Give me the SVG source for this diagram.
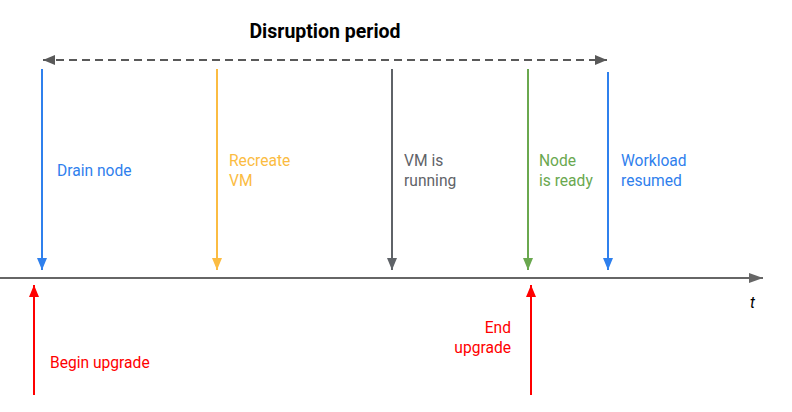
<svg xmlns="http://www.w3.org/2000/svg" width="792" height="412" viewBox="0 0 792 412">
<style>
text{font-family:Roboto,"Liberation Sans",sans-serif;font-size:15.6px}
.title{font-weight:bold;font-size:19.5px;fill:#000}
.ln{stroke-width:2;fill:none}
.blue{fill:#2f80ed}.orange{fill:#fbbc42}.gray{fill:#5f6368}.green{fill:#6aa84f}.red{fill:#ff0000}
</style>
<defs>
<marker id="ab" viewBox="0 0 12 10" refX="12" refY="5" markerWidth="12" markerHeight="10" markerUnits="userSpaceOnUse" orient="auto"><path d="M0,0L12,5L0,10z" fill="#2f80ed"/></marker>
<marker id="ao" viewBox="0 0 12 10" refX="12" refY="5" markerWidth="12" markerHeight="10" markerUnits="userSpaceOnUse" orient="auto"><path d="M0,0L12,5L0,10z" fill="#fbbc42"/></marker>
<marker id="ag" viewBox="0 0 12 10" refX="12" refY="5" markerWidth="12" markerHeight="10" markerUnits="userSpaceOnUse" orient="auto"><path d="M0,0L12,5L0,10z" fill="#5f6368"/></marker>
<marker id="agr" viewBox="0 0 12 10" refX="12" refY="5" markerWidth="12" markerHeight="10" markerUnits="userSpaceOnUse" orient="auto"><path d="M0,0L12,5L0,10z" fill="#6aa84f"/></marker>
<marker id="ar" viewBox="0 0 12 10" refX="12" refY="5" markerWidth="12" markerHeight="10" markerUnits="userSpaceOnUse" orient="auto"><path d="M0,0L12,5L0,10z" fill="#ff0000"/></marker>
<marker id="ad" viewBox="0 0 12 10" refX="12" refY="5" markerWidth="12" markerHeight="10" markerUnits="userSpaceOnUse" orient="auto-start-reverse"><path d="M0,0L12,5L0,10z" fill="#595959"/></marker>
<marker id="aax" viewBox="0 0 14 10" refX="14" refY="5" markerWidth="14" markerHeight="10" markerUnits="userSpaceOnUse" orient="auto"><path d="M0,0L14,5L0,10z" fill="#666666"/></marker>
</defs>
<g id="connectors">
<line id="timeline" class="ln" x1="0" y1="278" x2="763" y2="278" stroke="#666666" marker-end="url(#aax)"/>
<line id="disruption" class="ln" x1="43" y1="60" x2="607" y2="60" stroke="#595959" stroke-dasharray="8,5" marker-start="url(#ad)" marker-end="url(#ad)"/>
<line class="ln" x1="42" y1="69" x2="42" y2="270" stroke="#2f80ed" marker-end="url(#ab)"/>
<line class="ln" x1="217" y1="69" x2="217" y2="270" stroke="#fbbc42" marker-end="url(#ao)"/>
<line class="ln" x1="392" y1="69" x2="392" y2="270" stroke="#5f6368" marker-end="url(#ag)"/>
<line class="ln" x1="528" y1="69" x2="528" y2="270" stroke="#6aa84f" marker-end="url(#agr)"/>
<line class="ln" x1="608" y1="72" x2="608" y2="270" stroke="#2f80ed" marker-end="url(#ab)"/>
<line class="ln" x1="34" y1="395" x2="34" y2="285" stroke="#ff0000" marker-end="url(#ar)"/>
<line class="ln" x1="531" y1="395" x2="531" y2="285" stroke="#ff0000" marker-end="url(#ar)"/>
</g>
<g id="title"><text class="title" x="325" y="38" text-anchor="middle">Disruption period</text></g>
<g id="drain-node"><text class="blue" x="57" y="176">Drain node</text></g>
<g id="recreate-vm"><text class="orange" x="229" y="166">Recreate<tspan x="229" dy="19.5">VM</tspan></text></g>
<g id="vm-running"><text class="gray" x="404" y="166">VM is<tspan x="404" dy="19.5">running</tspan></text></g>
<g id="node-ready"><text class="green" x="539" y="166">Node<tspan x="539" dy="19.5">is ready</tspan></text></g>
<g id="workload-resumed"><text class="blue" x="621" y="166">Workload<tspan x="621" dy="19.5">resumed</tspan></text></g>
<g id="begin-upgrade"><text class="red" x="50" y="368">Begin upgrade</text></g>
<g id="end-upgrade"><text class="red" x="511" y="333" text-anchor="end">End<tspan x="511" dy="19.5">upgrade</tspan></text></g>
<g id="t-label"><text x="750" y="308" font-style="italic" font-size="20" fill="#000">t</text></g>
</svg>
